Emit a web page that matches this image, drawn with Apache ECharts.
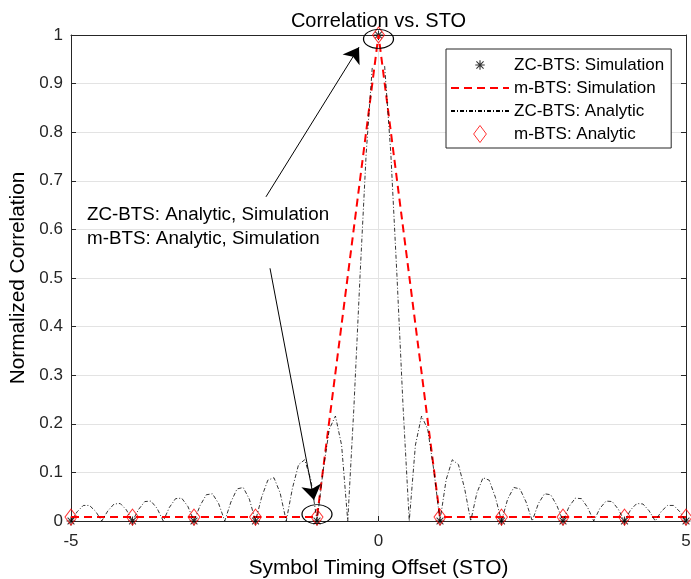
<!DOCTYPE html>
<html>
<head>
<meta charset="utf-8">
<script src="https://cdn.jsdelivr.net/npm/echarts@6/dist/echarts.min.js"></script>
<style>
  html, body { margin: 0; padding: 0; background: #fff; }
  #chart { width: 691px; height: 579px; }
</style>
</head>
<body>
<div id="chart"></div>
<script>
// integer STO points (simulation + m-BTS analytic)
var sto = [-5, -4, -3, -2, -1, 0, 1, 2, 3, 4, 5];
var zcSimulation = [0, 0, 0, 0, 0, 1, 0, 0, 0, 0, 0];
var mSimulation = [0.008, 0.008, 0.008, 0.008, 0.008, 1, 0.008, 0.008, 0.008, 0.008, 0.008];
var mAnalytic = [0.008, 0.008, 0.008, 0.008, 0.008, 1, 0.008, 0.008, 0.008, 0.008, 0.008];

// fine STO grid for the ZC analytic curve (step 0.1)
var stoFine = [];
for (var i = -50; i <= 50; i++) stoFine.push(i / 10);
var zcAnalytic = [
  0,
  0.019, 0.032, 0.032, 0.020, 0,
  0.021, 0.035, 0.036, 0.023, 0,
  0.024, 0.040, 0.041, 0.026, 0,
  0.028, 0.046, 0.047, 0.030, 0,
  0.032, 0.054, 0.056, 0.036, 0,
  0.039, 0.066, 0.069, 0.045, 0,
  0.049, 0.084, 0.089, 0.058, 0,
  0.067, 0.116, 0.126, 0.085, 0,
  0.104, 0.189, 0.216, 0.156, 0,
  0.234, 0.505, 0.757, 0.936,
  null,
  0.936, 0.757, 0.505, 0.234, 0,
  0.156, 0.216, 0.189, 0.104, 0,
  0.085, 0.126, 0.116, 0.067, 0,
  0.058, 0.089, 0.084, 0.049, 0,
  0.045, 0.069, 0.066, 0.039, 0,
  0.036, 0.056, 0.054, 0.032, 0,
  0.030, 0.047, 0.046, 0.028, 0,
  0.026, 0.041, 0.040, 0.024, 0,
  0.023, 0.036, 0.035, 0.021, 0,
  0.020, 0.032, 0.032, 0.019, 0
];

var seriesNames = ['ZC-BTS: Simulation', 'm-BTS: Simulation', 'ZC-BTS: Analytic', 'm-BTS: Analytic'];

function zip(xs, ys) {
  return xs.map(function (x, k) { return [x, ys[k]]; });
}

var FONT = '"Liberation Sans", Arial, Helvetica, sans-serif';
var AXIS_COLOR = '#262626';
var asterisk = 'path://M0,4.4H10V5.6H0Z M4.4,0H5.6V10H4.4Z M0.8,1.6L1.6,0.8L9.2,8.4L8.4,9.2Z M8.4,0.8L9.2,1.6L1.6,9.2L0.8,8.4Z';
var asteriskLegend = 'path://M-4,-4 M14,14 M0,4.4H10V5.6H0Z M4.4,0H5.6V10H4.4Z M0.8,1.6L1.6,0.8L9.2,8.4L8.4,9.2Z M8.4,0.8L9.2,1.6L1.6,9.2L0.8,8.4Z';
var diamond = 'path://M6,0L12,8L6,16L0,8Z';
var ellipse = 'path://M0,10C0,4.477 4.477,0 10,0C15.523,0 20,4.477 20,10C20,15.523 15.523,20 10,20C4.477,20 0,15.523 0,10Z';

var chart = echarts.init(document.getElementById('chart'));

function boxAxis(extra) {
  var a = {
    type: 'value',
    axisLine: { show: true, onZero: false, lineStyle: { color: AXIS_COLOR, width: 1 } },
    axisTick: { show: true, inside: true, length: 5, lineStyle: { color: AXIS_COLOR } },
    axisLabel: { show: false },
    splitLine: { show: false }
  };
  for (var k in extra) a[k] = extra[k];
  return a;
}

chart.setOption({
  backgroundColor: '#fff',
  animation: false,
  textStyle: { fontFamily: FONT },
  grid: { left: 71, right: 5, top: 35, bottom: 58, outerBoundsMode: 'none', containLabel: false },
  graphic: [
    {
      type: 'text', x: 378.5, y: 21, silent: true,
      style: { text: 'Correlation vs. STO', font: '20px ' + FONT, fill: '#000', align: 'center', verticalAlign: 'middle' }
    },
    {
      type: 'text', x: 87, y: 227, silent: true,
      style: {
        text: 'ZC-BTS: Analytic, Simulation\nm-BTS: Analytic, Simulation',
        font: '18.8px ' + FONT, fill: '#000', lineHeight: 24, verticalAlign: 'middle'
      }
    }
  ],
  legend: {
    left: 446, top: 49, orient: 'vertical',
    padding: [6, 7, 4, 4],
    itemWidth: 58, itemHeight: 17, itemGap: 3,
    backgroundColor: '#fff', borderColor: AXIS_COLOR, borderWidth: 1, borderRadius: 0,
    textStyle: { fontSize: 17, color: '#000', lineHeight: 20, fontFamily: FONT },
    data: [
      { name: seriesNames[0], icon: asteriskLegend, itemStyle: { color: '#000' } },
      { name: seriesNames[1], itemStyle: { opacity: 0 } },
      { name: seriesNames[2], itemStyle: { opacity: 0 } },
      { name: seriesNames[3], icon: diamond, itemStyle: { color: 'rgba(0,0,0,0)', borderColor: '#ff0000', borderWidth: 1 } }
    ]
  },
  xAxis: [
    boxAxis({
      min: -5, max: 5, interval: 5,
      name: 'Symbol Timing Offset (STO)', nameLocation: 'middle', nameGap: 37,
      nameTextStyle: { fontSize: 20.8, color: '#000', fontFamily: FONT },
      axisLabel: { fontSize: 17, color: AXIS_COLOR, margin: 12, fontFamily: FONT },
      splitLine: { show: true, lineStyle: { color: '#e3e3e3', width: 1 } }
    }),
    boxAxis({ min: -5, max: 5, interval: 5, position: 'top' })
  ],
  yAxis: [
    boxAxis({
      min: 0, max: 1, interval: 0.1,
      name: 'Normalized Correlation', nameLocation: 'middle', nameGap: 41,
      nameTextStyle: { fontSize: 20.8, color: '#000', fontFamily: FONT },
      axisLabel: { fontSize: 17, color: AXIS_COLOR, margin: 8, fontFamily: FONT },
      splitLine: { show: true, lineStyle: { color: '#e3e3e3', width: 1 } }
    }),
    boxAxis({ min: 0, max: 1, interval: 0.1, position: 'right' })
  ],
  series: [
    {
      name: seriesNames[0], type: 'scatter',
      data: zip(sto, zcSimulation),
      symbol: asterisk, symbolSize: 9,
      itemStyle: { color: '#000' }
    },
    {
      name: seriesNames[1], type: 'line',
      data: zip(sto, mSimulation),
      symbol: 'none',
      lineStyle: { color: '#ff0000', width: 2, type: [8, 5] },
      itemStyle: { color: '#ff0000' }
    },
    {
      name: seriesNames[2], type: 'line',
      data: zip(stoFine, zcAnalytic),
      symbol: 'none', connectNulls: false,
      lineStyle: { color: '#000', width: 0.8, type: [4, 2, 1, 2] },
      itemStyle: { color: '#000' },
      markLine: {
        silent: true, animation: false,
        symbol: ['none', 'arrow'], symbolSize: 15,
        label: { show: false },
        lineStyle: { color: '#000', width: 1, type: 'solid' },
        itemStyle: { color: '#000' },
        emphasis: { disabled: true },
        data: [
          [{ coord: [-1.83, 0.667] }, { coord: [-0.317, 0.975] }],
          [{ coord: [-1.764, 0.52] }, { coord: [-1.049, 0.043] }]
        ]
      },
      markPoint: {
        silent: true, animation: false,
        symbol: ellipse, symbolSize: [30, 19],
        label: { show: false },
        itemStyle: { color: 'rgba(0,0,0,0)', borderColor: '#000', borderWidth: 1 },
        data: [
          { coord: [0, 0.992] },
          { coord: [-1, 0.014] }
        ]
      }
    },
    {
      name: seriesNames[3], type: 'scatter',
      data: zip(sto, mAnalytic),
      symbol: diamond, symbolSize: [12, 16],
      itemStyle: { color: 'rgba(0,0,0,0)', borderColor: '#ff0000', borderWidth: 1 }
    }
  ]
});
</script>
</body>
</html>
